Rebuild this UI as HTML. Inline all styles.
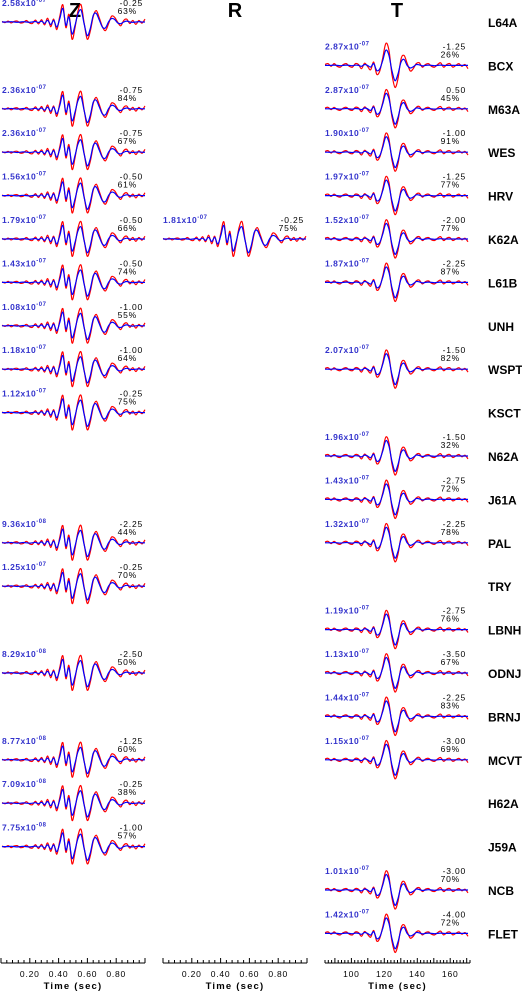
<!DOCTYPE html>
<html><head><meta charset="utf-8"><style>
body{margin:0;background:#fff;width:522px;height:991px;overflow:hidden}
svg{font-family:"Liberation Sans",sans-serif}
</style></head><body>
<svg id="c" width="522" height="991" xmlns="http://www.w3.org/2000/svg">
<text x="75" y="17" font-size="20" font-weight="bold" text-anchor="middle">Z</text>
<text x="235" y="17" font-size="20" font-weight="bold" text-anchor="middle">R</text>
<text x="397" y="17" font-size="20" font-weight="bold" text-anchor="middle">T</text>
</svg>
<script>
const stations=["L64A","BCX","M63A","WES","HRV","K62A","L61B","UNH","WSPT","KSCT","N62A","J61A","PAL","TRY","LBNH","ODNJ","BRNJ","MCVT","H62A","J59A","NCB","FLET"];
const zRows=[0,2,3,4,5,6,7,8,9,12,13,15,17,18,19];
const zAmp=["2.58x10","2.36x10","2.36x10","1.56x10","1.79x10","1.43x10","1.08x10","1.18x10","1.12x10","9.36x10","1.25x10","8.29x10","8.77x10","7.09x10","7.75x10"];
const zExp=["-07","-07","-07","-07","-07","-07","-07","-07","-07","-08","-07","-08","-08","-08","-08"];
const zShift=["-0.25","-0.75","-0.75","-0.50","-0.50","-0.50","-1.00","-1.00","-0.25","-2.25","-0.25","-2.50","-1.25","-0.25","-1.00"];
const zFit=["63%","84%","67%","61%","66%","74%","55%","64%","75%","44%","70%","50%","60%","38%","57%"];
const rRows=[5];
const rAmp=["1.81x10"];const rExp=["-07"];const rShift=["-0.25"];const rFit=["75%"];
const tRows=[1,2,3,4,5,6,8,10,11,12,14,15,16,17,20,21];
const tAmp=["2.87x10","2.87x10","1.90x10","1.97x10","1.52x10","1.87x10","2.07x10","1.96x10","1.43x10","1.32x10","1.19x10","1.13x10","1.44x10","1.15x10","1.01x10","1.42x10"];
const tExp=["-07","-07","-07","-07","-07","-07","-07","-07","-07","-07","-07","-07","-07","-07","-07","-07"];
const tShift=["-1.25","0.50","-1.00","-1.25","-2.00","-2.25","-1.50","-1.50","-2.75","-2.25","-2.75","-3.50","-2.25","-3.00","-3.00","-4.00"];
const tFit=["26%","45%","91%","77%","77%","87%","82%","32%","72%","78%","76%","67%","83%","69%","70%","72%"];
const zBlue=[0,0,0,.02,0,-.02,0,.02,0,-.02,0,.03,-.03,.05,-.08,.1,-.15,.1,-.3,.2,.8,-.2,.3,-.7,-.2,.5,.7,-.1,-.8,-.4,.4,.5,.1,-.3,-.35,0,.2,.15,-.05,-.1,0,.05,0,-.02,0,.02,0,0];
const zRed=[.03,-.03,.05,-.05,.03,.05,-.05,-.03,.08,-.05,-.08,.1,-.1,.12,-.15,.2,-.25,.15,-.4,.3,.9,-.3,.4,-.9,-.3,.6,.9,-.05,-.9,-.5,.3,.6,.2,-.25,-.45,-.1,.3,.25,0,-.2,.08,.15,-.08,.08,-.12,.08,-.06,.15];
const tBlue=[0,0,0,.02,0,-.02,0,.02,0,-.02,.02,0,-.05,.05,0,-.1,.1,-.3,-.2,.3,.9,.6,-.3,-.9,-.5,.2,.35,0,-.15,-.08,.05,.03,-.03,0,.02,0,-.02,0,.02,0,0,0,0,0,0,0,0,0];
const tRed=[.04,.08,-.04,.08,-.04,-.08,.04,.08,-.04,-.08,.08,.04,-.15,.1,-.05,-.2,.15,-.4,-.25,.35,1,.7,-.4,-1,-.6,.3,.45,.1,-.25,-.15,.08,.12,-.08,.04,.08,-.04,-.08,.04,.12,-.08,.04,.08,-.08,0,.08,-.04,.04,-.15];
const zTicks=["0.20","0.40","0.60","0.80"];const zTickVals=[.2,.4,.6,.8];
const tTicks=["100","120","140","160"];const tTickVals=[100,120,140,160];
const svg=document.getElementById('c');const NS="http://www.w3.org/2000/svg";
const rowY=i=>22+43.4*i;
function el(t,a){const e=document.createElementNS(NS,t);for(const k in a)e.setAttribute(k,a[k]);svg.appendChild(e);return e;}
stations.forEach((s,i)=>{const e=el('text',{x:488,y:rowY(i)+5,'font-size':12,'font-weight':'bold'});e.textContent=s;

});
function trace(x0,w,arr,col,by,amp,name){const n=arr.length;const P=arr.map((v,j)=>[x0+j*w/(n-1),by-v*amp]);
let d='M'+P[0][0].toFixed(1)+','+P[0][1].toFixed(1);
for(let j=0;j<n-1;j++){const p0=P[Math.max(j-1,0)],p1=P[j],p2=P[j+1],p3=P[Math.min(j+2,n-1)];
d+=`C${(p1[0]+(p2[0]-p0[0])/6).toFixed(1)},${(p1[1]+(p2[1]-p0[1])/6).toFixed(1)} ${(p2[0]-(p3[0]-p1[0])/6).toFixed(1)},${(p2[1]-(p3[1]-p1[1])/6).toFixed(1)} ${p2[0].toFixed(1)},${p2[1].toFixed(1)}`;}
const p=el('path',{d:d,fill:'none',stroke:col,'stroke-width':1.2});

}
function column(x0,rows,amp,exp,sh,fit,blue,red,col){rows.forEach((r,k)=>{const by=rowY(r);
trace(x0,143,red,'#f00',by,(r===1&&col==='t')?22:19,col+'-observed-'+stations[r].toLowerCase());
trace(x0,143,blue,'#00f',by,17,col+'-synthetic-'+stations[r].toLowerCase());
const a=el('text',{x:x0,y:by-16,'font-size':8.5,'font-weight':'bold',fill:'#33c','letter-spacing':'0.5'});
a.innerHTML=amp[k]+'<tspan dy="-4" font-size="6">'+exp[k]+'</tspan>';


const s=el('text',{x:x0+141,y:by-16,'font-size':8.5,'text-anchor':'end','letter-spacing':'0.8'});s.textContent=sh[k];


const f=el('text',{x:x0+135,y:by-8,'font-size':8.5,'text-anchor':'end','letter-spacing':'0.8'});f.textContent=fit[k];

});}
column(2,zRows,zAmp,zExp,zShift,zFit,zBlue,zRed,'z');
column(163,rRows,rAmp,rExp,rShift,rFit,zBlue,zRed,'r');
column(325,tRows,tAmp,tExp,tShift,tFit,tBlue,tRed,'t');
function axis(x0,x1,lo,hi,minor,major,ticks,vals,name){const ay=963;const sx=v=>x0+(v-lo)/(hi-lo)*(x1-x0);
const l=el('line',{x1:x0,x2:x1,y1:ay,y2:ay,stroke:'#000','stroke-width':1});


let d='';for(let v=lo;v<=hi+1e-9;v+=minor){const big=Math.abs(v/major-Math.round(v/major))<1e-6;d+=`M${sx(v).toFixed(1)},${ay}v${big?-5:-3}`;}
const t=el('path',{d:d,stroke:'#000','stroke-width':1});


ticks.forEach((s,k)=>{const e=el('text',{x:sx(vals[k]),y:977,'font-size':8.5,'text-anchor':'middle','letter-spacing':'0.8'});e.textContent=s;

});
const ti=el('text',{x:(x0+x1)/2,y:989,'font-size':9.5,'font-weight':'bold','text-anchor':'middle','letter-spacing':'1.2'});ti.textContent='Time (sec)';

}
axis(1,145,0,1,0.04,0.2,zTicks,zTickVals,'z');
axis(163,307,0,1,0.04,0.2,zTicks,zTickVals,'r');
axis(325,470,84,172,2,10,tTicks,tTickVals,'t');
</script>
</body></html>
